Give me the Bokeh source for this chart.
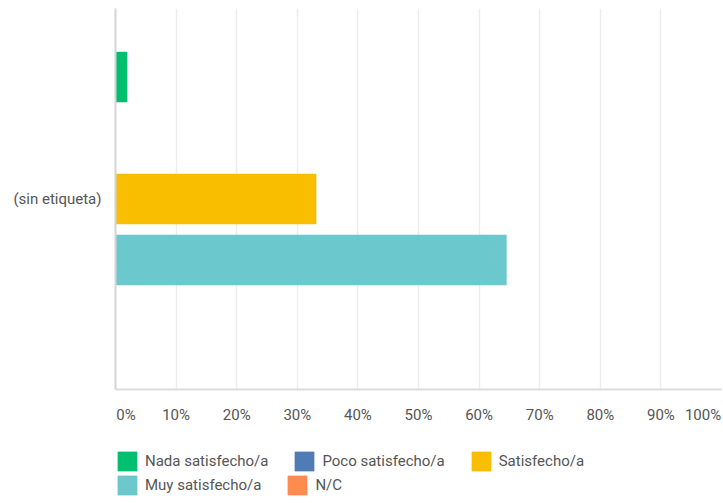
from bokeh.plotting import figure
from bokeh.models import (ColumnDataSource, FactorRange, FixedTicker, Legend,
                          LegendItem, Range1d)
from bokeh.layouts import column
from bokeh.transform import dodge
from bokeh.embed import file_html
from bokeh.resources import INLINE

# ---- data ----
category = ["(sin etiqueta)"]
series = ["Nada satisfecho/a", "Poco satisfecho/a", "Satisfecho/a",
          "Muy satisfecho/a", "N/C"]
values = [1.9, 0.0, 33.1, 64.5, 0.0]
colors = ["#00bf6f", "#507cb6", "#f9be00", "#6bc8cd", "#ff8b4f"]
tick_values = [0, 10, 20, 30, 40, 50, 60, 70, 80, 90, 100]
tick_labels = ["0%", "10%", "20%", "30%", "40%", "50%", "60%", "70%",
               "80%", "90%", "100%"]

FONT = "Roboto"
TXT = "#555555"
FRAME_W = 606

p = figure(y_range=FactorRange(*category, range_padding=0),
           x_range=Range1d(0, 100),
           frame_width=FRAME_W, frame_height=381,
           min_border_left=115, min_border_right=2, min_border_top=8,
           min_border_bottom=51,
           output_backend="svg", toolbar_location=None)
p.outline_line_color = None

slot = 0.16
bar_h = 0.131
n = len(series)
sources = []
for i, (name, v, c) in enumerate(zip(series, values, colors)):
    src = ColumnDataSource(dict(cat=category, val=[v]))
    sources.append(src)
    off = ((n - 1) / 2 - i) * slot
    p.hbar(y=dodge("cat", off, range=p.y_range), left=0, right="val",
           height=bar_h, source=src, fill_color=c, line_color=c,
           line_alpha=0.5)

# x axis: end labels kept inside the frame like the reference
px_per_unit = FRAME_W / 100.0
label_pos = list(tick_values)
label_pos[0] = round(tick_values[0] + 10.5 / px_per_unit, 2)
label_pos[-1] = round(tick_values[-1] - 18.5 / px_per_unit, 2)

ax = p.xaxis[0]
ax.ticker = FixedTicker(ticks=label_pos)
ax.major_label_overrides = {t: l for t, l in zip(label_pos, tick_labels)}
ax.major_tick_line_color = None
ax.minor_tick_line_color = None
ax.major_tick_out = 0
ax.major_tick_in = 0
ax.axis_line_color = "#dcdcdc"
ax.axis_line_width = 2
ax.major_label_standoff = 16
ax.major_label_text_font = FONT
ax.major_label_text_font_size = "15px"
ax.major_label_text_color = TXT

p.xgrid.ticker = FixedTicker(ticks=tick_values)
p.xgrid.grid_line_color = "#ededed"
p.xgrid.grid_line_width = 1.5
p.ygrid.grid_line_color = None

ay = p.yaxis[0]
ay.major_tick_line_color = None
ay.minor_tick_line_color = None
ay.axis_line_color = "#d4d4d4"
ay.axis_line_width = 2
ay.major_label_standoff = 8
ay.major_label_text_font = FONT
ay.major_label_text_font_size = "15px"
ay.major_label_text_color = TXT

# ---- legend strip ----
p2 = figure(width=723, height=63, x_range=Range1d(0, 100), y_range=Range1d(0, 1),
            min_border=0, x_axis_location=None, y_axis_location=None,
            output_backend="svg", toolbar_location=None)
p2.outline_line_color = None
p2.grid.visible = False
swatches = []
for src, c in zip(sources, colors):
    swatches.append(p2.hbar(y=0, left=0, right="val", height=0.1, source=src,
                            fill_color=c, line_color=c, line_alpha=0.5,
                            visible=False))

def make_legend(idx, loc):
    lg = Legend(items=[LegendItem(label=series[i], renderers=[swatches[i]])
                       for i in idx],
                location=loc, orientation="horizontal",
                padding=0, margin=0, spacing=24, label_standoff=6,
                glyph_width=24, glyph_height=24,
                inactive_fill_alpha=0,
                border_line_color=None, background_fill_alpha=0,
                label_text_font=FONT, label_text_font_size="15px",
                label_text_color=TXT)
    p2.add_layout(lg, "center")

make_legend([0, 1, 2], (0, 30))
make_legend([3, 4], (0, 6))

open("out.html", "w").write(file_html(column(p, p2, spacing=0), INLINE))
